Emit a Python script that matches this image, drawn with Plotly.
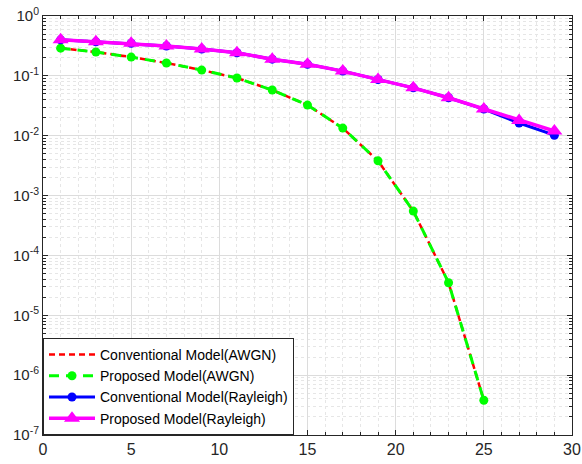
import plotly.graph_objects as go

snr_awgn = [1, 3, 5, 7, 9, 11, 13, 15, 17, 19, 21, 23, 25]
conv_awgn = [0.29, 0.25, 0.206, 0.164, 0.125, 0.092, 0.058, 0.0325, 0.0134, 0.0038, 5.5e-4, 3.5e-5, 3.8e-7]
prop_awgn = [0.29, 0.25, 0.206, 0.164, 0.125, 0.092, 0.058, 0.0325, 0.0134, 0.0038, 5.5e-4, 3.5e-5, 3.8e-7]

snr_ray = [1, 3, 5, 7, 9, 11, 13, 15, 17, 19, 21, 23, 25, 27, 29]
conv_ray = [0.40, 0.37, 0.35, 0.315, 0.28, 0.243, 0.19, 0.156, 0.12, 0.087, 0.063, 0.043, 0.0279, 0.0163, 0.0102]
prop_ray = [0.40, 0.37, 0.35, 0.315, 0.28, 0.243, 0.19, 0.156, 0.12, 0.087, 0.063, 0.043, 0.0279, 0.018, 0.012]

x_ticks = [0, 5, 10, 15, 20, 25, 30]
y_exps = [0, -1, -2, -3, -4, -5, -6, -7]

fig = go.Figure()
fig.add_trace(go.Scatter(x=snr_awgn, y=conv_awgn, mode="lines", name="Conventional Model(AWGN)",
                         line=dict(color="#FF0000", width=2.5, dash="6px,4px")))
fig.add_trace(go.Scatter(x=snr_awgn, y=prop_awgn, mode="lines+markers", name="Proposed Model(AWGN)",
                         line=dict(color="#00FF00", width=3, dash="10px,7px"),
                         marker=dict(symbol="circle", size=9, color="#00FF00")))
fig.add_trace(go.Scatter(x=snr_ray, y=conv_ray, mode="lines+markers", name="Conventional Model(Rayleigh)",
                         line=dict(color="#0000FF", width=3),
                         marker=dict(symbol="circle", size=9, color="#0000FF")))
fig.add_trace(go.Scatter(x=snr_ray, y=prop_ray, mode="lines+markers", name="Proposed Model(Rayleigh)",
                         line=dict(color="#FF00FF", width=3.5),
                         marker=dict(symbol="triangle-up", size=14, color="#FF00FF")))

minor_y = [k * 10.0 ** e for e in range(-7, 0) for k in range(2, 10)]
axis_col = "#262626"
grid_col = "#DCDCDC"

fig.update_layout(
    width=582, height=464,
    margin=dict(l=43, r=10, t=16, b=29),
    paper_bgcolor="white", plot_bgcolor="white",
    font=dict(family="Liberation Sans, Arial", size=15, color=axis_col),
    showlegend=True,
    legend=dict(x=0, y=0, xanchor="left", yanchor="bottom",
                bgcolor="white", bordercolor=axis_col, borderwidth=1,
                font=dict(size=14, color="#000000"), itemwidth=46,
                tracegroupgap=0),
    xaxis=dict(range=[0, 30], tickvals=x_ticks, ticktext=[str(v) for v in x_ticks],
               automargin=False, tickfont=dict(size=16),
               showline=True, linecolor=axis_col, linewidth=1, mirror="ticks",
               ticks="inside", ticklen=5, tickcolor=axis_col,
               showgrid=True, gridcolor=grid_col, gridwidth=1, zeroline=False,
               minor=dict(dtick=1, tick0=0, showgrid=True, gridcolor="#E6E6E6",
                          griddash="dot", ticks="inside", ticklen=3, tickcolor=axis_col)),
    yaxis=dict(type="log", range=[-7, 0],
               tickvals=[10.0 ** e for e in y_exps],
               ticktext=["10<sup>%d</sup>" % e for e in y_exps],
               automargin=False, tickfont=dict(size=15),
               showline=True, linecolor=axis_col, linewidth=1, mirror="ticks",
               ticks="inside", ticklen=5, tickcolor=axis_col,
               showgrid=True, gridcolor=grid_col, gridwidth=1, zeroline=False,
               minor=dict(tickvals=minor_y, showgrid=True, gridcolor="#E6E6E6",
                          griddash="dot", ticks="inside", ticklen=3, tickcolor=axis_col)),
)

fig.write_html("out.html", config={"displayModeBar": False},
               post_script="document.body.style.margin='0';document.body.style.overflow='hidden';")
